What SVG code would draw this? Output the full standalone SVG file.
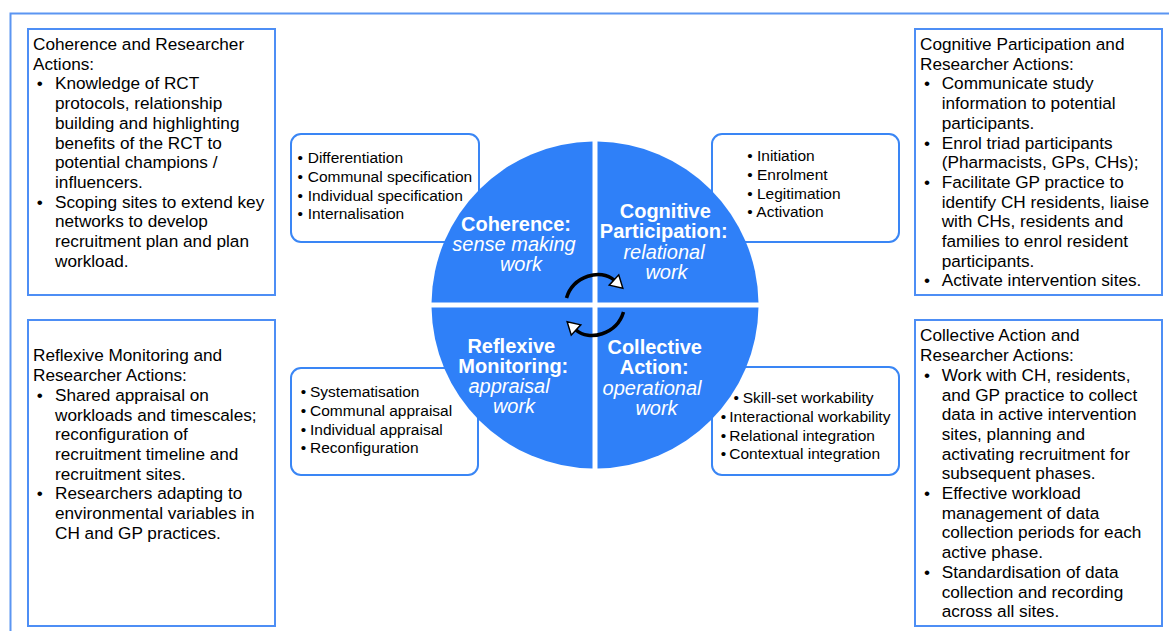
<svg xmlns="http://www.w3.org/2000/svg" width="1169" height="631" viewBox="0 0 1169 631">
<style>
.frame{fill:none;stroke:#5b95f2;stroke-width:2}
.box{fill:#fff;stroke:#4d8ef5;stroke-width:2}
.sbox{fill:#fff;stroke:#3a86f5;stroke-width:2}
.q{fill:#2f80f8}
.t{font-family:"Liberation Sans",Arial,sans-serif;font-size:17.2px;fill:#000}
.s{font-family:"Liberation Sans",Arial,sans-serif;font-size:15.5px;fill:#000}
.h{font-family:"Liberation Sans",Arial,sans-serif;font-size:20px;font-weight:bold;fill:#fff;text-anchor:middle}
.i{font-family:"Liberation Sans",Arial,sans-serif;font-size:20px;font-style:italic;fill:#fff;text-anchor:middle}
.arc{fill:none;stroke:#000;stroke-width:3.5}
</style>
<defs>
<marker id="ah" markerUnits="userSpaceOnUse" markerWidth="14" markerHeight="14" refX="0" refY="0" orient="auto" overflow="visible">
<path d="M0,-7 L12,0 L0,7 Z" fill="#fff" stroke="#000" stroke-width="1.5" stroke-linejoin="miter"/>
</marker>
</defs>
<rect width="1169" height="631" fill="#fff"/>
<rect class="frame" x="10.5" y="13.5" width="1200" height="700"/>

<g id="coherence-actions">
<rect class="box" x="28" y="29" width="247" height="266"/>
<text class="t" x="33" y="50">Coherence and Researcher</text>
<text class="t" x="33" y="69.7">Actions:</text>
<text class="t" x="36.8" y="89.4">•</text><text class="t" x="55" y="89.4">Knowledge of RCT</text>
<text class="t" x="55" y="109.1">protocols, relationship</text>
<text class="t" x="55" y="128.8">building and highlighting</text>
<text class="t" x="55" y="148.5">benefits of the RCT to</text>
<text class="t" x="55" y="168.2">potential champions /</text>
<text class="t" x="55" y="187.9">influencers.</text>
<text class="t" x="36.8" y="207.6">•</text><text class="t" x="55" y="207.6">Scoping sites to extend key</text>
<text class="t" x="55" y="227.3">networks to develop</text>
<text class="t" x="55" y="247">recruitment plan and plan</text>
<text class="t" x="55" y="266.7">workload.</text>
</g>

<g id="reflexive-actions">
<rect class="box" x="28" y="320" width="247" height="306"/>
<text class="t" x="33" y="361.4">Reflexive Monitoring and</text>
<text class="t" x="33" y="381.1">Researcher Actions:</text>
<text class="t" x="36.8" y="400.8">•</text><text class="t" x="55" y="400.8">Shared appraisal on</text>
<text class="t" x="55" y="420.5">workloads and timescales;</text>
<text class="t" x="55" y="440.2">reconfiguration of</text>
<text class="t" x="55" y="459.9">recruitment timeline and</text>
<text class="t" x="55" y="479.6">recruitment sites.</text>
<text class="t" x="36.8" y="499.3">•</text><text class="t" x="55" y="499.3">Researchers adapting to</text>
<text class="t" x="55" y="519">environmental variables in</text>
<text class="t" x="55" y="538.7">CH and GP practices.</text>
</g>

<g id="cognitive-actions">
<rect class="box" x="915" y="29" width="247" height="266"/>
<text class="t" x="920" y="50">Cognitive Participation and</text>
<text class="t" x="920" y="69.7">Researcher Actions:</text>
<text class="t" x="924" y="89.4">•</text><text class="t" x="941.7" y="89.4">Communicate study</text>
<text class="t" x="941.7" y="109.1">information to potential</text>
<text class="t" x="941.7" y="128.8">participants.</text>
<text class="t" x="924" y="148.5">•</text><text class="t" x="941.7" y="148.5">Enrol triad participants</text>
<text class="t" x="941.7" y="168.2">(Pharmacists, GPs, CHs);</text>
<text class="t" x="924" y="187.9">•</text><text class="t" x="941.7" y="187.9">Facilitate GP practice to</text>
<text class="t" x="941.7" y="207.6">identify CH residents, liaise</text>
<text class="t" x="941.7" y="227.3">with CHs, residents and</text>
<text class="t" x="941.7" y="247">families to enrol resident</text>
<text class="t" x="941.7" y="266.7">participants.</text>
<text class="t" x="924" y="286.4">•</text><text class="t" x="941.7" y="286.4">Activate intervention sites.</text>
</g>

<g id="collective-actions">
<rect class="box" x="915" y="320" width="247" height="306"/>
<text class="t" x="920" y="341.4">Collective Action and</text>
<text class="t" x="920" y="361.1">Researcher Actions:</text>
<text class="t" x="924" y="380.8">•</text><text class="t" x="941.7" y="380.8">Work with CH, residents,</text>
<text class="t" x="941.7" y="400.5">and GP practice to collect</text>
<text class="t" x="941.7" y="420.2">data in active intervention</text>
<text class="t" x="941.7" y="439.9">sites, planning and</text>
<text class="t" x="941.7" y="459.6">activating recruitment for</text>
<text class="t" x="941.7" y="479.3">subsequent phases.</text>
<text class="t" x="924" y="499">•</text><text class="t" x="941.7" y="499">Effective workload</text>
<text class="t" x="941.7" y="518.7">management of data</text>
<text class="t" x="941.7" y="538.4">collection periods for each</text>
<text class="t" x="941.7" y="558.1">active phase.</text>
<text class="t" x="924" y="577.8">•</text><text class="t" x="941.7" y="577.8">Standardisation of data</text>
<text class="t" x="941.7" y="597.5">collection and recording</text>
<text class="t" x="941.7" y="617.2">across all sites.</text>
</g>

<g id="coherence-list">
<rect class="sbox" x="291" y="134" width="188" height="108" rx="10"/>
<text class="s" x="297.5" y="163.3">•</text><text class="s" x="307.7" y="163.3">Differentiation</text>
<text class="s" x="297.5" y="181.9">•</text><text class="s" x="307.7" y="181.9">Communal specification</text>
<text class="s" x="297.5" y="200.5">•</text><text class="s" x="307.7" y="200.5">Individual specification</text>
<text class="s" x="297.5" y="219.1">•</text><text class="s" x="307.7" y="219.1">Internalisation</text>
</g>

<g id="cognitive-list">
<rect class="sbox" x="712" y="134" width="187" height="108" rx="10"/>
<text class="s" x="747.3" y="161.3">•</text><text class="s" x="757" y="161.3">Initiation</text>
<text class="s" x="747.3" y="179.9">•</text><text class="s" x="757" y="179.9">Enrolment</text>
<text class="s" x="747.3" y="198.5">•</text><text class="s" x="757" y="198.5">Legitimation</text>
<text class="s" x="747.3" y="217.1">•</text><text class="s" x="756.3" y="217.1">Activation</text>
</g>

<g id="reflexive-list">
<rect class="sbox" x="291" y="368" width="187" height="107" rx="10"/>
<text class="s" x="300.8" y="397.3">•</text><text class="s" x="310" y="397.3">Systematisation</text>
<text class="s" x="300.8" y="415.9">•</text><text class="s" x="310" y="415.9">Communal appraisal</text>
<text class="s" x="300.8" y="434.5">•</text><text class="s" x="310" y="434.5">Individual appraisal</text>
<text class="s" x="300.8" y="453.1">•</text><text class="s" x="310" y="453.1">Reconfiguration</text>
</g>

<g id="collective-list">
<rect class="sbox" x="712" y="367" width="187" height="108" rx="10"/>
<text class="s" x="733.5" y="403.3">•</text><text class="s" x="742.7" y="403.3">Skill-set workability</text>
<text class="s" x="720.8" y="421.9">•</text><text class="s" x="729.3" y="421.9">Interactional workability</text>
<text class="s" x="720.8" y="440.5">•</text><text class="s" x="729.3" y="440.5">Relational integration</text>
<text class="s" x="720.8" y="459.1">•</text><text class="s" x="729.3" y="459.1">Contextual integration</text>
</g>

<g id="coherence">
<path class="q" d="M592.5,302.5 H431.52 A163.5,163.5 0 0 1 592.5,141.52 Z"/>
<text class="h" x="516" y="231">Coherence:</text>
<text class="i" x="514" y="251">sense making</text>
<text class="i" x="521" y="271">work</text>
</g>

<g id="cognitive-participation">
<path class="q" d="M597.5,302.5 V141.52 A163.5,163.5 0 0 1 758.48,302.5 Z"/>
<text class="h" x="665.3" y="217.5">Cognitive</text>
<text class="h" x="663.7" y="237.5">Participation:</text>
<text class="i" x="664" y="258.5">relational</text>
<text class="i" x="666.5" y="278.5">work</text>
</g>

<g id="collective-action">
<path class="q" d="M597.5,307.5 H758.48 A163.5,163.5 0 0 1 597.5,468.48 Z"/>
<text class="h" x="654.7" y="353.5">Collective</text>
<text class="h" x="654.2" y="373.5">Action:</text>
<text class="i" x="652" y="394.5">operational</text>
<text class="i" x="656.5" y="414.5">work</text>
</g>

<g id="reflexive-monitoring">
<path class="q" d="M592.5,307.5 V468.48 A163.5,163.5 0 0 1 431.52,307.5 Z"/>
<text class="h" x="511.3" y="352.5">Reflexive</text>
<text class="h" x="513.3" y="372.5">Monitoring:</text>
<text class="i" x="509" y="392.7">appraisal</text>
<text class="i" x="514" y="412.7">work</text>
</g>

<g id="connectors">
<path class="arc" d="M566.5,298 C573,276 601,268 614,280" marker-end="url(#ah)"/>
<path class="arc" d="M623.5,312 C617,334 589,342 576,330" marker-end="url(#ah)"/>
</g>
</svg>
